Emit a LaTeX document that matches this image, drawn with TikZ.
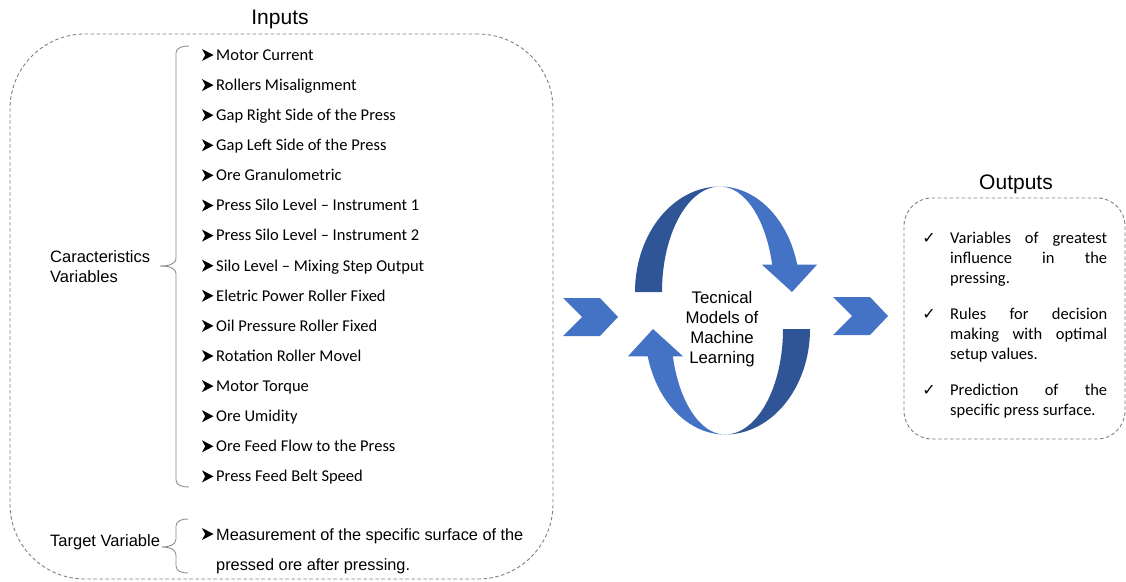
\documentclass[tikz,border=0pt]{standalone}
\usepackage{fontspec}
\setmainfont{Carlito}
\newfontfamily\arialf{Liberation Sans}
\newfontfamily\djv{DejaVu Sans}
\definecolor{ablue}{HTML}{4472C4}
\definecolor{adark}{HTML}{2F5597}
\definecolor{bgray}{HTML}{7F7F7F}
\definecolor{brgray}{HTML}{8C8C8C}
\tikzset{
  dashbox/.style={draw=bgray, line width=0.9pt, dash pattern=on 3.5pt off 2.5pt, inner sep=0pt},
  title/.style={font=\arialf\fontsize{21}{24}\selectfont, inner sep=0pt},
  item/.style={anchor=base west, inner sep=0pt, font=\fontsize{16.5}{20}\selectfont},
  aitem/.style={anchor=base west, inner sep=0pt, font=\arialf\fontsize{16.3}{20}\selectfont},
  label/.style={anchor=base west, inner sep=0pt, font=\arialf\fontsize{16.5}{20}\selectfont},
  oline/.style={anchor=base west, inner sep=0pt, font=\fontsize{16.5}{20}\selectfont},
  check/.style={anchor=base, inner sep=0pt, font=\djv\fontsize{16}{18}\selectfont},
  bracepath/.style={draw=brgray, line width=0.9pt},
  chev/.style={fill=ablue},
  bul/.pic={\fill[black] (-5,6) -- (6.5,0) -- (-5,-6) -- (-1.8,0) -- cycle;},
  cycarrow/.pic={
    \fill[adark] (-87.5,18.5) arc[start angle=180, end angle=90, x radius=85, y radius=105.5]
       arc[start angle=90, end angle=180, x radius=58, y radius=105.5] -- cycle;
    \fill[ablue] (-2.5,124) arc[start angle=90, end angle=15, x radius=80, y radius=105.5]
       -- (94.5,45.81) -- (69.5,18.5) -- (39.5,45.81) -- (49.66,45.81)
       arc[start angle=15, end angle=90, x radius=54, y radius=105.5] -- cycle;
  }
}
\newcommand\jl[1]{\makebox[157pt][s]{#1}}
\begin{document}
\begin{tikzpicture}[x=1pt,y=1pt]
\useasboundingbox (0,0) rectangle (1126,-581);

% titles
\node[title] (tin) at (280,-19.5) {Inputs};
\node[title] (tout) at (1016,-184.5) {Outputs};

% boxes
\node[dashbox, rounded corners=75pt, minimum width=543pt, minimum height=545pt] (inbox) at (281.5,-306.5) {};
\node[dashbox, rounded corners=28pt, minimum width=221pt, minimum height=241pt] (outbox) at (1014.5,-318.5) {};

% input items
\foreach \t [count=\i] in {Motor Current, Rollers Misalignment, Gap Right Side of the Press,
  Gap Left Side of the Press, Ore Granulometric, Press Silo Level – Instrument 1,
  Press Silo Level – Instrument 2, Silo Level – Mixing Step Output, Eletric Power Roller Fixed,
  Oil Pressure Roller Fixed, Rotation Roller Movel, Motor Torque, Ore Umidity,
  Ore Feed Flow to the Press, Press Feed Belt Speed}{
  \pgfmathsetmacro\yc{55+30.1*(\i-1)}
  \node[item] (in\i) at (216,{-\yc-5.3}) {\t};
  \pic at (207,-\yc) {bul};
}

% characteristics label and brace
\node[label] (cv1) at (50,-262) {Caracteristics};
\node[label] (cv2) at (50,-282) {Variables};
\draw[bracepath] (189,-46) to[out=180,in=90] (176,-53) -- (176,-258)
  to[out=270,in=0] (160,-266) to[out=0,in=90] (176,-274) -- (176,-480)
  to[out=270,in=180] (189,-487);

% target
\node[label] (tv) at (50,-546) {Target Variable};
\draw[bracepath] (188,-519) to[out=180,in=90] (176,-526) -- (176,-539)
  to[out=270,in=0] (162,-547) to[out=0,in=90] (176,-555) -- (176,-566)
  to[out=270,in=180] (188,-573);
\node[aitem] (tg1) at (216,-540) {Measurement of the specific surface of the};
\node[aitem] (tg2) at (216,-570) {pressed ore after pressing.};
\pic at (207,-534) {bul};

% chevrons
\fill[chev] (563,-298) -- (600,-298) -- (618,-317) -- (600,-336) -- (563,-336) -- (582,-317) -- cycle;
\fill[chev] (833,-297) -- (870,-297) -- (888,-316) -- (870,-335) -- (833,-335) -- (852,-316) -- cycle;

% cycle arrows
\pic at (722.5,-310.5) {cycarrow};
\pic[rotate=180] at (722.5,-310.5) {cycarrow};

\node[align=center, inner sep=0pt, font=\arialf\fontsize{16.8}{19.8}\selectfont] (ml) at (722,-329) {Tecnical\\Models of\\Machine\\Learning};

% outputs
\node[check] (c1) at (929,-243) {✓};
\node[oline] (o1a) at (950,-243) {\jl{Variables of greatest}};
\node[oline] (o1b) at (950,-263) {\jl{influence in the}};
\node[oline] (o1c) at (950,-283) {pressing.};
\node[check] (c2) at (929,-319) {✓};
\node[oline] (o2a) at (950,-319) {\jl{Rules for decision}};
\node[oline] (o2b) at (950,-339) {\jl{making with optimal}};
\node[oline] (o2c) at (950,-359) {setup values.};
\node[check] (c3) at (929,-395) {✓};
\node[oline] (o3a) at (950,-395) {\jl{Prediction of the}};
\node[oline] (o3b) at (950,-415) {specific press surface.};
\end{tikzpicture}
\end{document}
